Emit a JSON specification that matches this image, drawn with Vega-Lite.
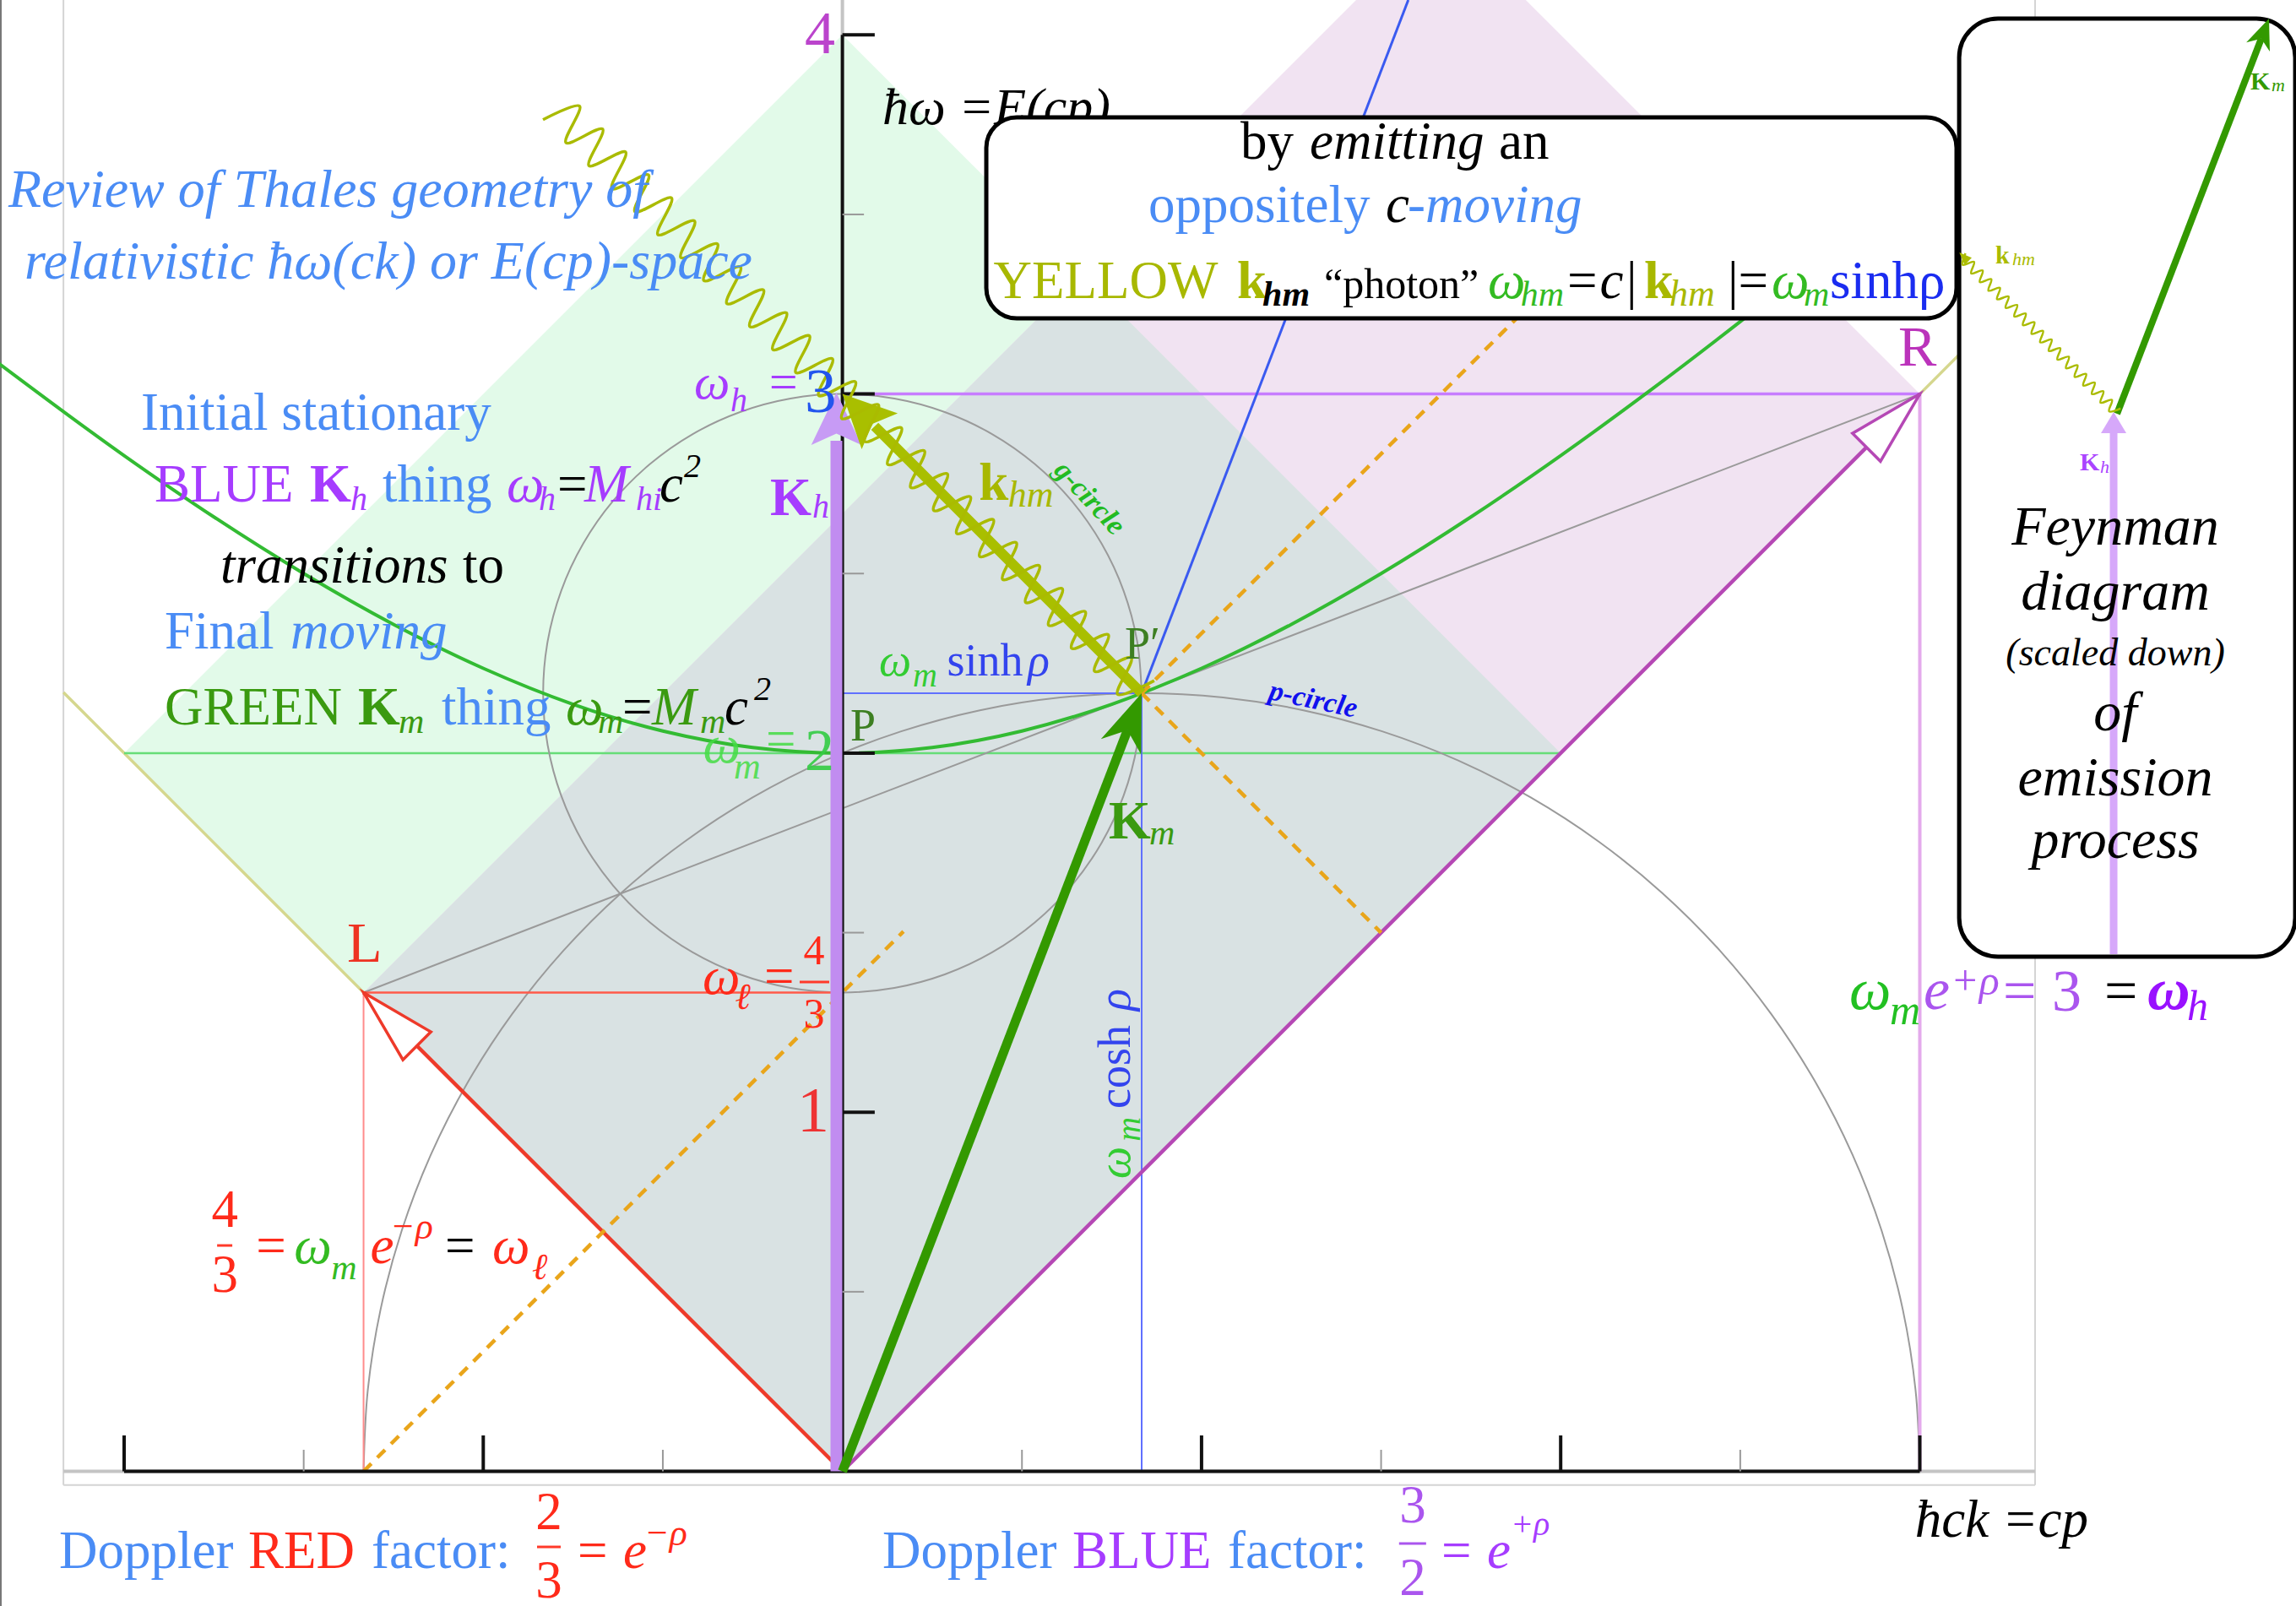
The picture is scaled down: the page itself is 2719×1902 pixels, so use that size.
{
"$schema":"https://vega.github.io/schema/vega-lite/v6.json",
"width":2719,"height":1902,"padding":0,"autosize":{"type":"none"},
"background":"#ffffff",
"config":{"view":{"stroke":null}},
"encoding":{
"x":{"field":"x","type":"quantitative","scale":{"domain":[-2.34564,4.04749],"nice":false,"zero":false},"axis":null},
"y":{"field":"y","type":"quantitative","scale":{"domain":[-0.37503,4.09711],"nice":false,"zero":false},"axis":null}
},
"layer":[
{"data":{"values":[{"i":0,"x":0,"y":0},{"i":1,"x":-2,"y":2},{"i":2,"x":0,"y":4},{"i":3,"x":2,"y":2}]},"mark":{"type":"line","interpolate":"linear-closed","fill":"#e2fae9","strokeOpacity":0,"clip":true},"encoding":{"order":{"field":"i","type":"quantitative"}}},
{"data":{"values":[{"i":0,"x":0,"y":0},{"i":1,"x":-1.3333,"y":1.3333},{"i":2,"x":1.6667,"y":4.3333},{"i":3,"x":3,"y":3}]},"mark":{"type":"line","interpolate":"linear-closed","fill":"#f1e3f2","strokeOpacity":0,"clip":true},"encoding":{"order":{"field":"i","type":"quantitative"}}},
{"data":{"values":[{"i":0,"x":0,"y":0},{"i":1,"x":-1.3333,"y":1.3333},{"i":2,"x":0.6667,"y":3.3333},{"i":3,"x":2,"y":2}]},"mark":{"type":"line","interpolate":"linear-closed","fill":"#d9e2e3","strokeOpacity":0,"clip":true},"encoding":{"order":{"field":"i","type":"quantitative"}}},
{"data":{"values":[{"id":1,"i":0,"x":-2.169,"y":-0.038},{"id":1,"i":1,"x":-2.169,"y":4.1},{"id":2,"i":0,"x":3.321,"y":-0.038},{"id":2,"i":1,"x":3.321,"y":4.1},{"id":3,"i":0,"x":-2.169,"y":-0.038},{"id":3,"i":1,"x":3.321,"y":-0.038}]},"mark":{"type":"line","color":"#d4d4d4","strokeWidth":2,"clip":true},"encoding":{"detail":{"field":"id","type":"nominal"},"order":{"field":"i","type":"quantitative"}}},
{"data":{"values":[{"i":0,"x":-2.3433,"y":-0.4},{"i":1,"x":-2.3433,"y":4.1}]},"mark":{"type":"line","color":"#777777","strokeWidth":2,"clip":true},"encoding":{"order":{"field":"i","type":"quantitative"}}},
{"data":{"values":[{"id":1,"i":0,"x":-2.169,"y":0},{"id":1,"i":1,"x":3.321,"y":0},{"id":2,"i":0,"x":0,"y":4},{"id":2,"i":1,"x":0,"y":4.1}]},"mark":{"type":"line","color":"#c4c4c4","strokeWidth":4,"clip":true},"encoding":{"detail":{"field":"id","type":"nominal"},"order":{"field":"i","type":"quantitative"}}},
{"data":{"values":[{"id":1,"i":0,"x":-2.169,"y":2.169},{"id":1,"i":1,"x":0,"y":0},{"id":2,"i":0,"x":0,"y":0},{"id":2,"i":1,"x":3.2,"y":3.2}]},"mark":{"type":"line","color":"#d5d78e","strokeWidth":3.5},"encoding":{"detail":{"field":"id","type":"nominal"},"order":{"field":"i","type":"quantitative"}}},
{"data":{"values":[{"i":0,"x":-2,"y":2},{"i":1,"x":2,"y":2}]},"mark":{"type":"line","color":"#66dd77","strokeWidth":2.5},"encoding":{"order":{"field":"i","type":"quantitative"}}},
{"data":{"values":[
{"id":1,"i":0,"x":3.0,"y":0},{"id":1,"i":1,"x":2.9881,"y":0.2265},{"id":1,"i":2,"x":2.9526,"y":0.4505},{"id":1,"i":3,"x":2.8939,"y":0.6696},{"id":1,"i":4,"x":2.8127,"y":0.8813},{"id":1,"i":5,"x":2.7097,"y":1.0833},{"id":1,"i":6,"x":2.5862,"y":1.2735},{"id":1,"i":7,"x":2.4435,"y":1.4498},{"id":1,"i":8,"x":2.2831,"y":1.6102},{"id":1,"i":9,"x":2.1068,"y":1.7529},{"id":1,"i":10,"x":1.9166,"y":1.8764},{"id":1,"i":11,"x":1.7146,"y":1.9794},{"id":1,"i":12,"x":1.5029,"y":2.0606},{"id":1,"i":13,"x":1.2838,"y":2.1193},{"id":1,"i":14,"x":1.0598,"y":2.1548},{"id":1,"i":15,"x":0.8333,"y":2.1667},{"id":1,"i":16,"x":0.6068,"y":2.1548},{"id":1,"i":17,"x":0.3828,"y":2.1193},{"id":1,"i":18,"x":0.1637,"y":2.0606},{"id":1,"i":19,"x":-0.0481,"y":1.9794},{"id":1,"i":20,"x":-0.25,"y":1.8764},{"id":1,"i":21,"x":-0.4402,"y":1.7529},{"id":1,"i":22,"x":-0.6165,"y":1.6102},{"id":1,"i":23,"x":-0.7769,"y":1.4498},{"id":1,"i":24,"x":-0.9196,"y":1.2735},{"id":1,"i":25,"x":-1.0431,"y":1.0833},{"id":1,"i":26,"x":-1.1461,"y":0.8813},{"id":1,"i":27,"x":-1.2273,"y":0.6696},{"id":1,"i":28,"x":-1.286,"y":0.4505},{"id":1,"i":29,"x":-1.3215,"y":0.2265},{"id":1,"i":30,"x":-1.3333,"y":0},
{"id":2,"i":0,"x":0.8333,"y":2.1667},{"id":2,"i":1,"x":0.8207,"y":2.3114},{"id":2,"i":2,"x":0.7831,"y":2.4517},{"id":2,"i":3,"x":0.7217,"y":2.5833},{"id":2,"i":4,"x":0.6384,"y":2.7023},{"id":2,"i":5,"x":0.5357,"y":2.805},{"id":2,"i":6,"x":0.4167,"y":2.8884},{"id":2,"i":7,"x":0.285,"y":2.9497},{"id":2,"i":8,"x":0.1447,"y":2.9873},{"id":2,"i":9,"x":0,"y":3.0},{"id":2,"i":10,"x":-0.1447,"y":2.9873},{"id":2,"i":11,"x":-0.285,"y":2.9497},{"id":2,"i":12,"x":-0.4167,"y":2.8884},{"id":2,"i":13,"x":-0.5357,"y":2.805},{"id":2,"i":14,"x":-0.6384,"y":2.7023},{"id":2,"i":15,"x":-0.7217,"y":2.5833},{"id":2,"i":16,"x":-0.7831,"y":2.4517},{"id":2,"i":17,"x":-0.8207,"y":2.3114},{"id":2,"i":18,"x":-0.8333,"y":2.1667},{"id":2,"i":19,"x":-0.8207,"y":2.022},{"id":2,"i":20,"x":-0.7831,"y":1.8817},{"id":2,"i":21,"x":-0.7217,"y":1.75},{"id":2,"i":22,"x":-0.6384,"y":1.6311},{"id":2,"i":23,"x":-0.5357,"y":1.5284},{"id":2,"i":24,"x":-0.4167,"y":1.445},{"id":2,"i":25,"x":-0.285,"y":1.3837},{"id":2,"i":26,"x":-0.1447,"y":1.3461},{"id":2,"i":27,"x":0,"y":1.3333},{"id":2,"i":28,"x":0.1447,"y":1.3461},{"id":2,"i":29,"x":0.285,"y":1.3837},{"id":2,"i":30,"x":0.4167,"y":1.445},{"id":2,"i":31,"x":0.5357,"y":1.5284},{"id":2,"i":32,"x":0.6384,"y":1.6311},{"id":2,"i":33,"x":0.7217,"y":1.75},{"id":2,"i":34,"x":0.7831,"y":1.8817},{"id":2,"i":35,"x":0.8207,"y":2.022},{"id":2,"i":36,"x":0.8333,"y":2.1667},
{"id":3,"i":0,"x":-1.3333,"y":1.3333},{"id":3,"i":1,"x":3,"y":3}]},"mark":{"type":"line","interpolate":"cardinal","color":"#9a9a9a","strokeWidth":2},"encoding":{"detail":{"field":"id","type":"nominal"},"order":{"field":"i","type":"quantitative"}}},
{"data":{"values":[{"i":0,"x":-1.3333,"y":1.3333},{"i":1,"x":-1.3333,"y":0}]},"mark":{"type":"line","color":"#ff8c8c","strokeWidth":2},"encoding":{"order":{"field":"i","type":"quantitative"}}},
{"data":{"values":[{"i":0,"x":-1.3333,"y":1.3333},{"i":1,"x":0,"y":1.3333}]},"mark":{"type":"line","color":"#ff5a4a","strokeWidth":2.5},"encoding":{"order":{"field":"i","type":"quantitative"}}},
{"data":{"values":[{"i":0,"x":0,"y":3},{"i":1,"x":3,"y":3}]},"mark":{"type":"line","color":"#c77dff","strokeWidth":3.5},"encoding":{"order":{"field":"i","type":"quantitative"}}},
{"data":{"values":[{"i":0,"x":3,"y":3},{"i":1,"x":3,"y":0}]},"mark":{"type":"line","color":"#e4aaec","strokeWidth":4},"encoding":{"order":{"field":"i","type":"quantitative"}}},
{"data":{"values":[{"id":1,"i":0,"x":0,"y":2.1667},{"id":1,"i":1,"x":0.8333,"y":2.1667},{"id":2,"i":0,"x":0.8333,"y":2.1667},{"id":2,"i":1,"x":0.8333,"y":0}]},"mark":{"type":"line","color":"#6070ff","strokeWidth":2},"encoding":{"detail":{"field":"id","type":"nominal"},"order":{"field":"i","type":"quantitative"}}},
{"data":{"values":[{"i":0,"x":-1.3333,"y":1.3333},{"i":1,"x":0,"y":0}]},"mark":{"type":"line","color":"#ee3a2a","strokeWidth":4.5},"encoding":{"order":{"field":"i","type":"quantitative"}}},
{"data":{"values":[{"i":0,"x":0,"y":0},{"i":1,"x":3,"y":3}]},"mark":{"type":"line","color":"#b548b5","strokeWidth":4.5},"encoding":{"order":{"field":"i","type":"quantitative"}}},
{"data":{"values":[{"i":0,"x":-1.3333,"y":1.3333},{"i":1,"x":-1.1459,"y":1.2237},{"i":2,"x":-1.2237,"y":1.1459}]},"mark":{"type":"line","interpolate":"linear-closed","fill":"#ffffff","color":"#ee3a2a","strokeWidth":3.5},"encoding":{"order":{"field":"i","type":"quantitative"}}},
{"data":{"values":[{"i":0,"x":3,"y":3},{"i":1,"x":2.8904,"y":2.8126},{"i":2,"x":2.8126,"y":2.8904}]},"mark":{"type":"line","interpolate":"linear-closed","fill":"#ffffff","color":"#b548b5","strokeWidth":3.5},"encoding":{"order":{"field":"i","type":"quantitative"}}},
{"data":{"values":[{"i":0,"x":-2.35,"y":3.0859},{"i":1,"x":-2.0,"y":2.8284},{"i":2,"x":-1.75,"y":2.6575},{"i":3,"x":-1.5,"y":2.5},{"i":4,"x":-1.25,"y":2.3585},{"i":5,"x":-1.0,"y":2.2361},{"i":6,"x":-0.75,"y":2.136},{"i":7,"x":-0.5,"y":2.0616},{"i":8,"x":-0.25,"y":2.0156},{"i":9,"x":0,"y":2},{"i":10,"x":0.25,"y":2.0156},{"i":11,"x":0.5,"y":2.0616},{"i":12,"x":0.75,"y":2.136},{"i":13,"x":1.0,"y":2.2361},{"i":14,"x":1.25,"y":2.3585},{"i":15,"x":1.5,"y":2.5},{"i":16,"x":1.75,"y":2.6575},{"i":17,"x":2.0,"y":2.8284},{"i":18,"x":2.25,"y":3.0104},{"i":19,"x":2.5,"y":3.2016},{"i":20,"x":2.75,"y":3.4004},{"i":21,"x":2.9,"y":3.5228}]},"mark":{"type":"line","interpolate":"monotone","color":"#33bb33","strokeWidth":4,"clip":true},"encoding":{"order":{"field":"i","type":"quantitative"}}},
{"data":{"values":[{"i":0,"x":0,"y":0},{"i":1,"x":1.5757,"y":4.0971}]},"mark":{"type":"line","color":"#3a5af0","strokeWidth":3},"encoding":{"order":{"field":"i","type":"quantitative"}}},
{"data":{"values":[{"id":1,"i":0,"x":-1.3333,"y":0},{"id":1,"i":1,"x":0.17,"y":1.5033},{"id":2,"i":0,"x":0.8333,"y":2.1667},{"id":2,"i":1,"x":2.0,"y":3.3333},{"id":3,"i":0,"x":0.8333,"y":2.1667},{"id":3,"i":1,"x":1.5,"y":1.5}]},"mark":{"type":"line","color":"#e9a51a","strokeWidth":4.5,"strokeDash":[13,10]},"encoding":{"detail":{"field":"id","type":"nominal"},"order":{"field":"i","type":"quantitative"}}},
{"data":{"values":[{"id":1,"i":0,"x":-2,"y":0},{"id":1,"i":1,"x":3,"y":0},{"id":2,"i":0,"x":0,"y":0},{"id":2,"i":1,"x":0,"y":4},
{"id":3,"i":0,"x":-2,"y":0},{"id":3,"i":1,"x":-2,"y":0.1},{"id":4,"i":0,"x":-1,"y":0},{"id":4,"i":1,"x":-1,"y":0.1},{"id":5,"i":0,"x":1,"y":0},{"id":5,"i":1,"x":1,"y":0.1},{"id":6,"i":0,"x":2,"y":0},{"id":6,"i":1,"x":2,"y":0.1},{"id":7,"i":0,"x":3,"y":0},{"id":7,"i":1,"x":3,"y":0.1},
{"id":8,"i":0,"x":0,"y":1},{"id":8,"i":1,"x":0.09,"y":1},{"id":9,"i":0,"x":0,"y":2},{"id":9,"i":1,"x":0.09,"y":2},{"id":10,"i":0,"x":0,"y":3},{"id":10,"i":1,"x":0.09,"y":3},{"id":11,"i":0,"x":0,"y":4},{"id":11,"i":1,"x":0.09,"y":4}]},"mark":{"type":"line","color":"#111111","strokeWidth":4},"encoding":{"detail":{"field":"id","type":"nominal"},"order":{"field":"i","type":"quantitative"}}},
{"data":{"values":[{"id":1,"i":0,"x":-1.5,"y":0},{"id":1,"i":1,"x":-1.5,"y":0.06},{"id":2,"i":0,"x":-0.5,"y":0},{"id":2,"i":1,"x":-0.5,"y":0.06},{"id":3,"i":0,"x":0.5,"y":0},{"id":3,"i":1,"x":0.5,"y":0.06},{"id":4,"i":0,"x":1.5,"y":0},{"id":4,"i":1,"x":1.5,"y":0.06},{"id":5,"i":0,"x":2.5,"y":0},{"id":5,"i":1,"x":2.5,"y":0.06},
{"id":6,"i":0,"x":0,"y":0.5},{"id":6,"i":1,"x":0.06,"y":0.5},{"id":7,"i":0,"x":0,"y":1.5},{"id":7,"i":1,"x":0.06,"y":1.5},{"id":8,"i":0,"x":0,"y":2.5},{"id":8,"i":1,"x":0.06,"y":2.5},{"id":9,"i":0,"x":0,"y":3.5},{"id":9,"i":1,"x":0.06,"y":3.5}]},"mark":{"type":"line","color":"#999999","strokeWidth":2},"encoding":{"detail":{"field":"id","type":"nominal"},"order":{"field":"i","type":"quantitative"}}},
{"data":{"values":[{"id":1,"i":0,"x":-0.119,"y":1.3625},{"id":1,"i":1,"x":-0.0367,"y":1.3625},{"id":2,"i":0,"x":-1.7411,"y":0.6289},{"id":2,"i":1,"x":-1.6988,"y":0.6289},{"id":3,"i":0,"x":-0.8502,"y":-0.2105},{"id":3,"i":1,"x":-0.7843,"y":-0.2105}]},"mark":{"type":"line","color":"#ff3a2a","strokeWidth":3},"encoding":{"detail":{"field":"id","type":"nominal"},"order":{"field":"i","type":"quantitative"}}},
{"data":{"values":[{"i":0,"x":1.55,"y":-0.2011},{"i":1,"x":1.6253,"y":-0.2011}]},"mark":{"type":"line","color":"#aa55ee","strokeWidth":3},"encoding":{"order":{"field":"i","type":"quantitative"}}},
{"data":{"values":[{"i":0,"x":-0.0167,"y":0},{"i":1,"x":-0.0167,"y":2.87}]},"mark":{"type":"line","color":"#c18cf0","strokeWidth":14},"encoding":{"order":{"field":"i","type":"quantitative"}}},
{"data":{"values":[{"i":0,"x":-0.0167,"y":3.004},{"i":1,"x":-0.0867,"y":2.858},{"i":2,"x":-0.0167,"y":2.89},{"i":3,"x":0.0533,"y":2.858}]},"mark":{"type":"line","interpolate":"linear-closed","fill":"#c79bf5","strokeOpacity":0},"encoding":{"order":{"field":"i","type":"quantitative"}}},
{"data":{"values":[{"i":0,"x":0.8333,"y":2.1667},{"i":1,"x":0.09,"y":2.91}]},"mark":{"type":"line","color":"#a9bf00","strokeWidth":12},"encoding":{"order":{"field":"i","type":"quantitative"}}},
{"data":{"values":[{"i":0,"x":0.0,"y":3.0},{"i":1,"x":0.1539,"y":2.9461},{"i":2,"x":0.0834,"y":2.9166},{"i":3,"x":0.0539,"y":2.8461}]},"mark":{"type":"line","interpolate":"linear-closed","fill":"#a9bf00","strokeOpacity":0},"encoding":{"order":{"field":"i","type":"quantitative"}}},
{"data":{"values":[{"i":0,"x":0.8683,"y":2.2017},{"i":1,"x":0.7663,"y":2.1637},{"i":2,"x":0.8043,"y":2.2657},{"i":3,"x":0.7023,"y":2.2277},{"i":4,"x":0.7403,"y":2.3297},{"i":5,"x":0.6383,"y":2.2917},{"i":6,"x":0.6763,"y":2.3937},{"i":7,"x":0.5743,"y":2.3557},{"i":8,"x":0.6123,"y":2.4577},{"i":9,"x":0.5103,"y":2.4197},{"i":10,"x":0.5483,"y":2.5217},{"i":11,"x":0.4463,"y":2.4837},{"i":12,"x":0.4843,"y":2.5857},{"i":13,"x":0.3823,"y":2.5477},{"i":14,"x":0.4203,"y":2.6497},{"i":15,"x":0.3183,"y":2.6117},{"i":16,"x":0.3563,"y":2.7137},{"i":17,"x":0.2543,"y":2.6757},{"i":18,"x":0.2923,"y":2.7777},{"i":19,"x":0.1903,"y":2.7397},{"i":20,"x":0.2283,"y":2.8417},{"i":21,"x":0.1263,"y":2.8037},{"i":22,"x":0.1643,"y":2.9057},{"i":23,"x":0.0623,"y":2.8677},{"i":24,"x":0.1003,"y":2.9697},{"i":25,"x":-0.0017,"y":2.9317},{"i":26,"x":0.0363,"y":3.0337},{"i":27,"x":-0.0657,"y":2.9957},{"i":28,"x":-0.0277,"y":3.0977},{"i":29,"x":-0.1297,"y":3.0597},{"i":30,"x":-0.0917,"y":3.1617},{"i":31,"x":-0.1937,"y":3.1237},{"i":32,"x":-0.1557,"y":3.2257},{"i":33,"x":-0.2577,"y":3.1877},{"i":34,"x":-0.2197,"y":3.2897},{"i":35,"x":-0.3217,"y":3.2517},{"i":36,"x":-0.2837,"y":3.3537},{"i":37,"x":-0.3857,"y":3.3157},{"i":38,"x":-0.3477,"y":3.4177},{"i":39,"x":-0.4497,"y":3.3797},{"i":40,"x":-0.4117,"y":3.4817},{"i":41,"x":-0.5137,"y":3.4437},{"i":42,"x":-0.4757,"y":3.5457},{"i":43,"x":-0.5777,"y":3.5077},{"i":44,"x":-0.5397,"y":3.6097},{"i":45,"x":-0.6417,"y":3.5717},{"i":46,"x":-0.6037,"y":3.6737},{"i":47,"x":-0.7057,"y":3.6357},{"i":48,"x":-0.6677,"y":3.7377},{"i":49,"x":-0.7697,"y":3.6997},{"i":50,"x":-0.7317,"y":3.8017},{"i":51,"x":-0.8337,"y":3.7637}]},"mark":{"type":"line","interpolate":"cardinal","color":"#aabb00","strokeWidth":3.5},"encoding":{"order":{"field":"i","type":"quantitative"}}},
{"data":{"values":[{"i":0,"x":0,"y":0},{"i":1,"x":0.7938,"y":2.064}]},"mark":{"type":"line","color":"#339900","strokeWidth":11},"encoding":{"order":{"field":"i","type":"quantitative"}}},
{"data":{"values":[{"i":0,"x":0.8333,"y":2.1667},{"i":1,"x":0.8319,"y":1.9959},{"i":2,"x":0.7938,"y":2.064},{"i":3,"x":0.7199,"y":2.0389}]},"mark":{"type":"line","interpolate":"linear-closed","fill":"#339900","strokeOpacity":0},"encoding":{"order":{"field":"i","type":"quantitative"}}},
{"data":{"values":[{"t":"ħω =E(cp)","x":0.1115,"y":3.7515}]},"mark":{"type":"text","font":"Liberation Serif","fontSize":62,"fontStyle":"italic","color":"#000000","align":"left","baseline":"alphabetic"},"encoding":{"text":{"field":"t"}}},
{"data":{"values":[{"x":0.4007,"x2":3.1023,"y":3.2107,"y2":3.7703}]},"mark":{"type":"rect","fill":"#ffffff","stroke":"#000000","strokeWidth":5,"cornerRadius":36},"encoding":{"x2":{"field":"x2"},"y2":{"field":"y2"}}},
{"data":{"values":[{"x":3.1096,"x2":4.0453,"y":1.4331,"y2":4.0454}]},"mark":{"type":"rect","fill":"#ffffff","stroke":"#000000","strokeWidth":5,"cornerRadius":46},"encoding":{"x2":{"field":"x2"},"y2":{"field":"y2"}}},
{"data":{"values":[{"i":0,"x":3.5397,"y":1.44},{"i":1,"x":3.5397,"y":2.8909}]},"mark":{"type":"line","color":"#d6a8fa","strokeWidth":9},"encoding":{"order":{"field":"i","type":"quantitative"}}},
{"data":{"values":[{"i":0,"x":3.5397,"y":2.9497},{"i":1,"x":3.5044,"y":2.8909},{"i":2,"x":3.575,"y":2.8909}]},"mark":{"type":"line","interpolate":"linear-closed","fill":"#d6a8fa","strokeOpacity":0},"encoding":{"order":{"field":"i","type":"quantitative"}}},
{"data":{"values":[{"i":0,"x":3.5491,"y":2.9449},{"i":1,"x":3.9508,"y":3.9894}]},"mark":{"type":"line","color":"#339900","strokeWidth":8},"encoding":{"order":{"field":"i","type":"quantitative"}}},
{"data":{"values":[{"i":0,"x":3.9723,"y":4.0454},{"i":1,"x":3.9745,"y":3.9535},{"i":2,"x":3.9508,"y":3.9894},{"i":3,"x":3.9091,"y":3.9787}]},"mark":{"type":"line","interpolate":"linear-closed","fill":"#339900","strokeOpacity":0},"encoding":{"order":{"field":"i","type":"quantitative"}}},
{"data":{"values":[{"i":0,"x":3.5591,"y":2.9597},{"i":1,"x":3.5271,"y":2.9517},{"i":2,"x":3.5351,"y":2.9837},{"i":3,"x":3.5031,"y":2.9757},{"i":4,"x":3.5111,"y":3.0077},{"i":5,"x":3.4791,"y":2.9997},{"i":6,"x":3.4871,"y":3.0317},{"i":7,"x":3.4551,"y":3.0237},{"i":8,"x":3.4631,"y":3.0557},{"i":9,"x":3.4311,"y":3.0477},{"i":10,"x":3.4391,"y":3.0797},{"i":11,"x":3.4071,"y":3.0717},{"i":12,"x":3.4151,"y":3.1037},{"i":13,"x":3.3831,"y":3.0957},{"i":14,"x":3.3911,"y":3.1277},{"i":15,"x":3.3591,"y":3.1197},{"i":16,"x":3.3671,"y":3.1517},{"i":17,"x":3.3351,"y":3.1437},{"i":18,"x":3.3431,"y":3.1757},{"i":19,"x":3.3111,"y":3.1677},{"i":20,"x":3.3191,"y":3.1997},{"i":21,"x":3.2871,"y":3.1917},{"i":22,"x":3.2951,"y":3.2237},{"i":23,"x":3.2631,"y":3.2157},{"i":24,"x":3.2711,"y":3.2477},{"i":25,"x":3.2391,"y":3.2397},{"i":26,"x":3.2471,"y":3.2717},{"i":27,"x":3.2151,"y":3.2637},{"i":28,"x":3.2231,"y":3.2957},{"i":29,"x":3.1911,"y":3.2877},{"i":30,"x":3.1991,"y":3.3197},{"i":31,"x":3.1671,"y":3.3117},{"i":32,"x":3.1751,"y":3.3437},{"i":33,"x":3.1431,"y":3.3357},{"i":34,"x":3.1511,"y":3.3677},{"i":35,"x":3.1191,"y":3.3597},{"i":36,"x":3.1271,"y":3.3917}]},"mark":{"type":"line","interpolate":"cardinal","color":"#aabb00","strokeWidth":2.5},"encoding":{"order":{"field":"i","type":"quantitative"}}},
{"data":{"values":[{"i":0,"x":3.11,"y":3.394},{"i":1,"x":3.1446,"y":3.3792},{"i":2,"x":3.1248,"y":3.3594}]},"mark":{"type":"line","interpolate":"linear-closed","fill":"#aabb00","strokeOpacity":0},"encoding":{"order":{"field":"i","type":"quantitative"}}},

{"data":{"values":[{"t":"Review of Thales geometry of","x":-2.3222,"y":3.521},{"t":"relativistic ħω(ck) or E(cp)-space","x":-2.2775,"y":3.3212}]},"mark":{"type":"text","font":"Liberation Serif","fontSize":64,"fontStyle":"italic","color":"#4a8cf5","align":"left","baseline":"alphabetic"},"encoding":{"text":{"field":"t"}}},
{"data":{"values":[{"t":"Initial stationary","x":-1.953,"y":2.9003},{"t":"thing","x":-1.2806,"y":2.7004},{"t":"Final","x":-1.8872,"y":2.2913},{"t":"thing","x":-1.1159,"y":2.0797},{"t":"oppositely","x":0.8521,"y":3.4787},{"t":"Doppler","x":-2.1809,"y":-0.2693},{"t":"factor:","x":-1.3111,"y":-0.2693},{"t":"Doppler","x":0.1116,"y":-0.2693},{"t":"factor:","x":1.0732,"y":-0.2693}]},"mark":{"type":"text","font":"Liberation Serif","fontSize":63,"color":"#4a8cf5","align":"left","baseline":"alphabetic"},"encoding":{"text":{"field":"t"}}},
{"data":{"values":[{"t":"moving","x":-1.5368,"y":2.2913},{"t":"-moving","x":1.574,"y":3.4787}]},"mark":{"type":"text","font":"Liberation Serif","fontSize":63,"fontStyle":"italic","color":"#4a8cf5","align":"left","baseline":"alphabetic"},"encoding":{"text":{"field":"t"}}},
{"data":{"values":[{"t":"BLUE","x":-1.9154,"y":2.7004},{"t":"BLUE","x":0.6405,"y":-0.2693},{"t":"=","x":1.668,"y":-0.2693}]},"mark":{"type":"text","font":"Liberation Serif","fontSize":63,"color":"#a63cff","align":"left","baseline":"alphabetic"},"encoding":{"text":{"field":"t"}}},
{"data":{"values":[{"t":"K","x":-1.4827,"y":2.7004},{"t":"K","x":-0.2013,"y":2.6628}]},"mark":{"type":"text","font":"Liberation Serif","fontSize":63,"fontWeight":"bold","color":"#a63cff","align":"left","baseline":"alphabetic"},"encoding":{"text":{"field":"t"}}},
{"data":{"values":[{"t":"ω","x":-0.935,"y":2.7004},{"t":"M","x":-0.7186,"y":2.7004},{"t":"e","x":1.795,"y":-0.2693}]},"mark":{"type":"text","font":"Liberation Serif","fontSize":63,"fontStyle":"italic","color":"#a63cff","align":"left","baseline":"alphabetic"},"encoding":{"text":{"field":"t"}}},
{"data":{"values":[{"t":"h","x":-1.3699,"y":2.6769},{"t":"h","x":-0.8456,"y":2.6769},{"t":"hi","x":-0.5752,"y":2.6769},{"t":"h","x":-0.0837,"y":2.6558},{"t":"h","x":-0.3118,"y":2.952},{"t":"+ρ","x":1.8608,"y":-0.1776}]},"mark":{"type":"text","font":"Liberation Serif","fontSize":40,"fontStyle":"italic","color":"#a63cff","align":"left","baseline":"alphabetic"},"encoding":{"text":{"field":"t"}}},
{"data":{"values":[{"t":"=","x":-0.7938,"y":2.7004},{"t":"to","x":-1.0572,"y":2.4747},{"t":"by","x":1.1084,"y":3.6562},{"t":"an","x":1.8279,"y":3.6562},{"t":"=","x":-0.6127,"y":2.0797},{"t":"=","x":-1.1066,"y":0.5795},{"t":"|=","x":2.4651,"y":3.2678}]},"mark":{"type":"text","font":"Liberation Serif","fontSize":63,"color":"#000000","align":"left","baseline":"alphabetic"},"encoding":{"text":{"field":"t"}}},
{"data":{"values":[{"t":"c","x":-0.5093,"y":2.7004},{"t":"transitions","x":-1.732,"y":2.4747},{"t":"emitting","x":1.3012,"y":3.6562},{"t":"c","x":1.5128,"y":3.4787},{"t":"c","x":-0.3282,"y":2.0797},{"t":"=c|","x":2.009,"y":3.2678},{"t":"ħck =cp","x":2.9866,"y":-0.1823}]},"mark":{"type":"text","font":"Liberation Serif","fontSize":63,"fontStyle":"italic","color":"#000000","align":"left","baseline":"alphabetic"},"encoding":{"text":{"field":"t"}}},
{"data":{"values":[{"t":"2","x":-0.4411,"y":2.7686},{"t":"2","x":-0.2459,"y":2.1479}]},"mark":{"type":"text","font":"Liberation Serif","fontSize":40,"fontStyle":"italic","color":"#000000","align":"left","baseline":"alphabetic"},"encoding":{"text":{"field":"t"}}},
{"data":{"values":[{"t":"GREEN","x":-1.8872,"y":2.0797}]},"mark":{"type":"text","font":"Liberation Serif","fontSize":63,"color":"#3a9a10","align":"left","baseline":"alphabetic"},"encoding":{"text":{"field":"t"}}},
{"data":{"values":[{"t":"K","x":-1.3487,"y":2.0797},{"t":"K","x":0.7416,"y":1.7623}]},"mark":{"type":"text","font":"Liberation Serif","fontSize":64,"fontWeight":"bold","color":"#3a9a10","align":"left","baseline":"alphabetic"},"encoding":{"text":{"field":"t"}}},
{"data":{"values":[{"t":"ω","x":-0.7703,"y":2.0797},{"t":"M","x":-0.5304,"y":2.0797}]},"mark":{"type":"text","font":"Liberation Serif","fontSize":63,"fontStyle":"italic","color":"#3a9a10","align":"left","baseline":"alphabetic"},"encoding":{"text":{"field":"t"}}},
{"data":{"values":[{"t":"m","x":-1.2358,"y":2.0562},{"t":"m","x":-0.6809,"y":2.0562},{"t":"m","x":-0.3964,"y":2.0562},{"t":"m","x":0.8545,"y":1.7458}]},"mark":{"type":"text","font":"Liberation Serif","fontSize":42,"fontStyle":"italic","color":"#3a9a10","align":"left","baseline":"alphabetic"},"encoding":{"text":{"field":"t"}}},
{"data":{"values":[{"t":"ω","x":1.7973,"y":3.2678},{"t":"ω","x":2.5874,"y":3.2678},{"t":"ω","x":-1.5271,"y":0.5795}]},"mark":{"type":"text","font":"Liberation Serif","fontSize":63,"fontStyle":"italic","color":"#33bb22","align":"left","baseline":"alphabetic"},"encoding":{"text":{"field":"t"}}},
{"data":{"values":[{"t":"hm","x":1.8883,"y":3.2459},{"t":"m","x":2.6767,"y":3.2459},{"t":"m","x":-1.4235,"y":0.5349}]},"mark":{"type":"text","font":"Liberation Serif","fontSize":42,"fontStyle":"italic","color":"#33bb22","align":"left","baseline":"alphabetic"},"encoding":{"text":{"field":"t"}}},
{"data":{"values":[{"t":"YELLOW","x":0.4207,"y":3.2678}]},"mark":{"type":"text","font":"Liberation Serif","fontSize":63,"color":"#a8b800","align":"left","baseline":"alphabetic"},"encoding":{"text":{"field":"t"}}},
{"data":{"values":[{"t":"k","x":1.099,"y":3.2678},{"t":"k","x":2.2323,"y":3.2678},{"t":"k","x":0.38,"y":2.7063}]},"mark":{"type":"text","font":"Liberation Serif","fontSize":63,"fontWeight":"bold","color":"#a8b800","align":"left","baseline":"alphabetic"},"encoding":{"text":{"field":"t"}}},
{"data":{"values":[{"t":"hm","x":2.3029,"y":3.2459},{"t":"hm","x":0.4611,"y":2.6863}]},"mark":{"type":"text","font":"Liberation Serif","fontSize":44,"fontStyle":"italic","color":"#a8b800","align":"left","baseline":"alphabetic"},"encoding":{"text":{"field":"t"}}},
{"data":{"values":[{"t":"hm","x":1.1696,"y":3.2459}]},"mark":{"type":"text","font":"Liberation Serif","fontSize":42,"fontStyle":"italic","fontWeight":"bold","color":"#000000","align":"left","baseline":"alphabetic"},"encoding":{"text":{"field":"t"}}},
{"data":{"values":[{"t":"“photon”","x":1.3412,"y":3.2678}]},"mark":{"type":"text","font":"Liberation Serif","fontSize":50,"color":"#000000","align":"left","baseline":"alphabetic"},"encoding":{"text":{"field":"t"}}},
{"data":{"values":[{"t":"sinhρ","x":2.7496,"y":3.2678}]},"mark":{"type":"text","font":"Liberation Serif","fontSize":63,"color":"#1a2cf0","align":"left","baseline":"alphabetic"},"encoding":{"text":{"field":"t"}}},
{"data":{"values":[{"t":"ω","x":0.102,"y":2.216}]},"mark":{"type":"text","font":"Liberation Serif","fontSize":54,"fontStyle":"italic","color":"#33cc33","align":"left","baseline":"alphabetic"},"encoding":{"text":{"field":"t"}}},
{"data":{"values":[{"t":"m","x":0.1961,"y":2.1855}]},"mark":{"type":"text","font":"Liberation Serif","fontSize":40,"fontStyle":"italic","color":"#33cc33","align":"left","baseline":"alphabetic"},"encoding":{"text":{"field":"t"}}},
{"data":{"values":[{"t":"sinh","x":0.2913,"y":2.216}]},"mark":{"type":"text","font":"Liberation Serif","fontSize":54,"color":"#3344ee","align":"left","baseline":"alphabetic"},"encoding":{"text":{"field":"t"}}},
{"data":{"values":[{"t":"ρ","x":0.5159,"y":2.216}]},"mark":{"type":"text","font":"Liberation Serif","fontSize":54,"fontStyle":"italic","color":"#3344ee","align":"left","baseline":"alphabetic"},"encoding":{"text":{"field":"t"}}},
{"data":{"values":[{"t":"ω","x":0.8002,"y":0.8147}]},"mark":{"type":"text","font":"Liberation Serif","fontSize":54,"fontStyle":"italic","color":"#33cc33","align":"left","baseline":"alphabetic","angle":270},"encoding":{"text":{"field":"t"}}},
{"data":{"values":[{"t":"m","x":0.8284,"y":0.9187}]},"mark":{"type":"text","font":"Liberation Serif","fontSize":40,"fontStyle":"italic","color":"#33cc33","align":"left","baseline":"alphabetic","angle":270},"encoding":{"text":{"field":"t"}}},
{"data":{"values":[{"t":"cosh","x":0.8002,"y":1.0099}]},"mark":{"type":"text","font":"Liberation Serif","fontSize":54,"color":"#3344ee","align":"left","baseline":"alphabetic","angle":270},"encoding":{"text":{"field":"t"}}},
{"data":{"values":[{"t":"ρ","x":0.8002,"y":1.2826}]},"mark":{"type":"text","font":"Liberation Serif","fontSize":54,"fontStyle":"italic","color":"#3344ee","align":"left","baseline":"alphabetic","angle":270},"encoding":{"text":{"field":"t"}}},
{"data":{"values":[{"t":"RED","x":-1.6544,"y":-0.2693},{"t":"=","x":-0.7374,"y":-0.2693},{"t":"=","x":-1.6329,"y":0.5795},{"t":"=","x":-0.2177,"y":1.3296}]},"mark":{"type":"text","font":"Liberation Serif","fontSize":63,"color":"#ff2a1a","align":"left","baseline":"alphabetic"},"encoding":{"text":{"field":"t"}}},
{"data":{"values":[{"t":"2","x":-0.8172,"y":-0.1611},{"t":"3","x":-0.8172,"y":-0.352},{"t":"4","x":-1.7199,"y":0.6807},{"t":"3","x":-1.7199,"y":0.4996}]},"mark":{"type":"text","font":"Liberation Serif","fontSize":63,"color":"#ff2a1a","align":"center","baseline":"alphabetic"},"encoding":{"text":{"field":"t"}}},
{"data":{"values":[{"t":"4","x":-0.079,"y":1.4119},{"t":"3","x":-0.079,"y":1.2355}]},"mark":{"type":"text","font":"Liberation Serif","fontSize":50,"color":"#ff2a1a","align":"center","baseline":"alphabetic"},"encoding":{"text":{"field":"t"}}},
{"data":{"values":[{"t":"e","x":-0.6104,"y":-0.2693},{"t":"e","x":-1.3148,"y":0.5795},{"t":"ω","x":-0.9749,"y":0.5795},{"t":"ω","x":-0.3894,"y":1.3296}]},"mark":{"type":"text","font":"Liberation Serif","fontSize":63,"fontStyle":"italic","color":"#ff2a1a","align":"left","baseline":"alphabetic"},"encoding":{"text":{"field":"t"}}},
{"data":{"values":[{"t":"−ρ","x":-0.5516,"y":-0.2058},{"t":"−ρ","x":-1.2594,"y":0.6477},{"t":"ℓ","x":-0.8644,"y":0.5349},{"t":"ℓ","x":-0.2991,"y":1.2873}]},"mark":{"type":"text","font":"Liberation Serif","fontSize":44,"fontStyle":"italic","color":"#ff2a1a","align":"left","baseline":"alphabetic"},"encoding":{"text":{"field":"t"}}},
{"data":{"values":[{"t":"L","x":-1.3791,"y":1.419}]},"mark":{"type":"text","font":"Liberation Serif","fontSize":68,"color":"#ee3322","align":"left","baseline":"alphabetic"},"encoding":{"text":{"field":"t"}}},
{"data":{"values":[{"t":"1","x":-0.0367,"y":0.9464}]},"mark":{"type":"text","font":"Liberation Serif","fontSize":76,"color":"#ee3333","align":"right","baseline":"alphabetic"},"encoding":{"text":{"field":"t"}}},
{"data":{"values":[{"t":"3","x":1.5881,"y":-0.1423},{"t":"2","x":1.5881,"y":-0.345}]},"mark":{"type":"text","font":"Liberation Serif","fontSize":63,"color":"#aa55ee","align":"center","baseline":"alphabetic"},"encoding":{"text":{"field":"t"}}},
{"data":{"values":[{"t":"ω","x":2.8037,"y":1.2873}]},"mark":{"type":"text","font":"Liberation Serif","fontSize":70,"fontStyle":"italic","color":"#22c022","align":"left","baseline":"alphabetic"},"encoding":{"text":{"field":"t"}}},
{"data":{"values":[{"t":"m","x":2.9166,"y":1.245}]},"mark":{"type":"text","font":"Liberation Serif","fontSize":50,"fontStyle":"italic","color":"#22c022","align":"left","baseline":"alphabetic"},"encoding":{"text":{"field":"t"}}},
{"data":{"values":[{"t":"e","x":3.0106,"y":1.2873}]},"mark":{"type":"text","font":"Liberation Serif","fontSize":70,"fontStyle":"italic","color":"#aa55ee","align":"left","baseline":"alphabetic"},"encoding":{"text":{"field":"t"}}},
{"data":{"values":[{"t":"+ρ","x":3.0859,"y":1.3273}]},"mark":{"type":"text","font":"Liberation Serif","fontSize":50,"fontStyle":"italic","color":"#aa55ee","align":"left","baseline":"alphabetic"},"encoding":{"text":{"field":"t"}}},
{"data":{"values":[{"t":"=","x":3.2316,"y":1.2826},{"t":"3","x":3.368,"y":1.2826}]},"mark":{"type":"text","font":"Liberation Serif","fontSize":70,"color":"#aa55ee","align":"left","baseline":"alphabetic"},"encoding":{"text":{"field":"t"}}},
{"data":{"values":[{"t":"=","x":3.5138,"y":1.2826}]},"mark":{"type":"text","font":"Liberation Serif","fontSize":70,"color":"#000000","align":"left","baseline":"alphabetic"},"encoding":{"text":{"field":"t"}}},
{"data":{"values":[{"t":"ω","x":3.6337,"y":1.2873}]},"mark":{"type":"text","font":"Liberation Serif","fontSize":70,"fontStyle":"italic","fontWeight":"bold","color":"#9911ff","align":"left","baseline":"alphabetic"},"encoding":{"text":{"field":"t"}}},
{"data":{"values":[{"t":"h","x":3.7442,"y":1.2567}]},"mark":{"type":"text","font":"Liberation Serif","fontSize":50,"fontStyle":"italic","color":"#9911ff","align":"left","baseline":"alphabetic"},"encoding":{"text":{"field":"t"}}},
{"data":{"values":[{"t":"ω","x":-0.4126,"y":2.9873},{"t":"=","x":-0.2133,"y":2.9873}]},"mark":{"type":"text","font":"Liberation Serif","fontSize":60,"fontStyle":"italic","color":"#a63cff","align":"left","baseline":"alphabetic"},"encoding":{"text":{"field":"t"}}},
{"data":{"values":[{"t":"3","x":-0.1049,"y":2.9497}]},"mark":{"type":"text","font":"Liberation Serif","fontSize":75,"color":"#2255ee","align":"left","baseline":"alphabetic"},"encoding":{"text":{"field":"t"}}},
{"data":{"values":[{"t":"4","x":-0.0202,"y":3.949}]},"mark":{"type":"text","font":"Liberation Serif","fontSize":72,"color":"#bb44cc","align":"right","baseline":"alphabetic"},"encoding":{"text":{"field":"t"}}},
{"data":{"values":[{"t":"R","x":2.9401,"y":3.079}]},"mark":{"type":"text","font":"Liberation Serif","fontSize":68,"color":"#bb33bb","align":"left","baseline":"alphabetic"},"encoding":{"text":{"field":"t"}}},
{"data":{"values":[{"t":"ω","x":-0.3882,"y":1.9739}]},"mark":{"type":"text","font":"Liberation Serif","fontSize":63,"fontStyle":"italic","color":"#44dd44","opacity":0.85,"align":"left","baseline":"alphabetic"},"encoding":{"text":{"field":"t"}}},
{"data":{"values":[{"t":"=","x":-0.213,"y":1.9904}]},"mark":{"type":"text","font":"Liberation Serif","fontSize":63,"color":"#44dd44","opacity":0.85,"align":"left","baseline":"alphabetic"},"encoding":{"text":{"field":"t"}}},
{"data":{"values":[{"t":"m","x":-0.3024,"y":1.9292}]},"mark":{"type":"text","font":"Liberation Serif","fontSize":44,"fontStyle":"italic","color":"#44dd44","opacity":0.85,"align":"left","baseline":"alphabetic"},"encoding":{"text":{"field":"t"}}},
{"data":{"values":[{"t":"2","x":-0.1049,"y":1.9534}]},"mark":{"type":"text","font":"Liberation Serif","fontSize":70,"color":"#33cc44","opacity":0.9,"align":"left","baseline":"alphabetic"},"encoding":{"text":{"field":"t"}}},
{"data":{"values":[{"t":"P","x":0.0221,"y":2.035},{"t":"P′","x":0.7863,"y":2.2631}]},"mark":{"type":"text","font":"Liberation Serif","fontSize":54,"color":"#3d7f22","align":"left","baseline":"alphabetic"},"encoding":{"text":{"field":"t"}}},
{"data":{"values":[{"t":"p-circle","x":1.3108,"y":2.1479}]},"mark":{"type":"text","font":"Liberation Serif","fontSize":34,"fontStyle":"italic","fontWeight":"bold","color":"#1111ee","align":"center","baseline":"middle","angle":12},"encoding":{"text":{"field":"t"}}},
{"data":{"values":[{"t":"g-circle","x":0.6878,"y":2.7098}]},"mark":{"type":"text","font":"Liberation Serif","fontSize":34,"fontStyle":"italic","fontWeight":"bold","color":"#22bb22","align":"center","baseline":"middle","angle":47},"encoding":{"text":{"field":"t"}}},
{"data":{"values":[{"t":"Feynman","x":3.5444,"y":2.5805},{"t":"diagram","x":3.5444,"y":2.3994},{"t":"of","x":3.5444,"y":2.0632},{"t":"emission","x":3.5444,"y":1.8821},{"t":"process","x":3.5444,"y":1.7081}]},"mark":{"type":"text","font":"Liberation Serif","fontSize":66,"fontStyle":"italic","color":"#000000","align":"center","baseline":"alphabetic"},"encoding":{"text":{"field":"t"}}},
{"data":{"values":[{"t":"(scaled down)","x":3.5444,"y":2.2443}]},"mark":{"type":"text","font":"Liberation Serif","fontSize":46,"fontStyle":"italic","color":"#000000","align":"center","baseline":"alphabetic"},"encoding":{"text":{"field":"t"}}},
{"data":{"values":[{"t":"K","x":3.9206,"y":3.8479}]},"mark":{"type":"text","font":"Liberation Serif","fontSize":30,"fontWeight":"bold","color":"#339900","align":"left","baseline":"alphabetic"},"encoding":{"text":{"field":"t"}}},
{"data":{"values":[{"t":"m","x":3.9793,"y":3.8432}]},"mark":{"type":"text","font":"Liberation Serif","fontSize":22,"fontStyle":"italic","color":"#339900","align":"left","baseline":"alphabetic"},"encoding":{"text":{"field":"t"}}},
{"data":{"values":[{"t":"k","x":3.2105,"y":3.3635}]},"mark":{"type":"text","font":"Liberation Serif","fontSize":30,"fontWeight":"bold","color":"#aabb00","align":"left","baseline":"alphabetic"},"encoding":{"text":{"field":"t"}}},
{"data":{"values":[{"t":"hm","x":3.2575,"y":3.3588}]},"mark":{"type":"text","font":"Liberation Serif","fontSize":22,"fontStyle":"italic","color":"#aabb00","align":"left","baseline":"alphabetic"},"encoding":{"text":{"field":"t"}}},
{"data":{"values":[{"t":"K","x":3.4457,"y":2.7874}]},"mark":{"type":"text","font":"Liberation Serif","fontSize":30,"fontWeight":"bold","color":"#aa44ff","align":"left","baseline":"alphabetic"},"encoding":{"text":{"field":"t"}}},
{"data":{"values":[{"t":"h","x":3.5021,"y":2.7804}]},"mark":{"type":"text","font":"Liberation Serif","fontSize":22,"fontStyle":"italic","color":"#aa44ff","align":"left","baseline":"alphabetic"},"encoding":{"text":{"field":"t"}}}
]
}
